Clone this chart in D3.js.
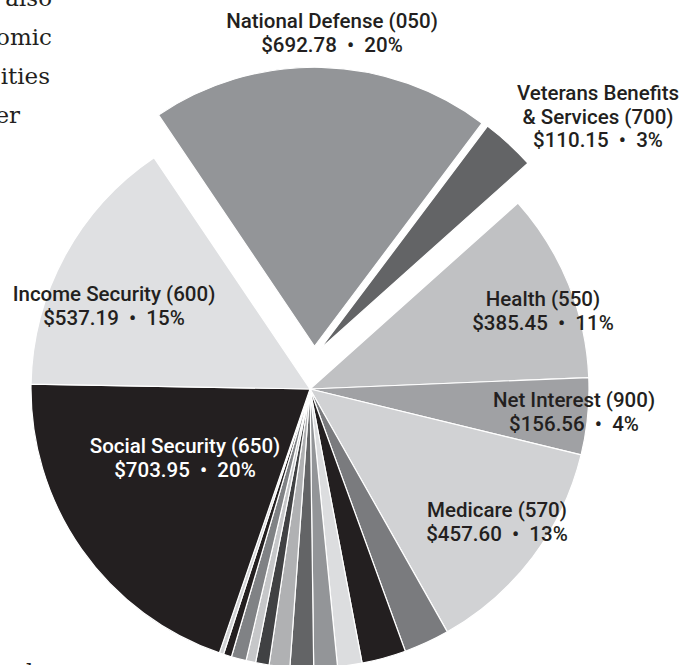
<!DOCTYPE html>
<html>
<head>
<meta charset="utf-8">
<script src="https://cdn.jsdelivr.net/npm/d3@7"></script>
<style>
  html, body { margin: 0; padding: 0; background: #fff; }
  svg { display: block; }
</style>
</head>
<body>
<svg id="chart"></svg>
<script>
// budget functions, clockwise from the top (billions of dollars)
const categories = [
  "National Defense (050)", "Veterans Benefits & Services (700)", "Health (550)",
  "Net Interest (900)", "Medicare (570)",
  "Other 1", "Other 2", "Other 3", "Other 4", "Other 5", "Other 6",
  "Other 7", "Other 8", "Other 9", "Other 10", "Other 11",
  "Social Security (650)", "Income Security (600)"
];
const values = [
  692.78, 110.15, 385.45, 156.56, 457.60,
  92.9, 90.0, 49.9, 47.9, 47.9, 42.0, 27.4, 19.6, 30.3, 16.6, 8.8,
  703.95, 537.19
];
const shades = [
  "#939598", "#636466", "#c0c1c3", "#a0a1a4", "#d1d2d4",
  "#7a7b7e", "#231f20", "#dcdddf", "#939598", "#636466", "#b0b1b3",
  "#404143", "#c6c7c9", "#808285", "#231f20", "#d1d2d4",
  "#231f20", "#dfe0e2"
];
const dot = "\u00a0\u00a0\u2022\u00a0\u00a0";
// label text lines for the labelled slices
const labelLines = {
  "National Defense (050)": ["National Defense (050)", "$692.78" + dot + "20%"],
  "Veterans Benefits & Services (700)": ["Veterans Benefits", "& Services (700)", "$110.15" + dot + "3%"],
  "Health (550)": ["Health (550)", "$385.45" + dot + "11%"],
  "Net Interest (900)": ["Net Interest (900)", "$156.56" + dot + "4%"],
  "Medicare (570)": ["Medicare (570)", "$457.60" + dot + "13%"],
  "Social Security (650)": ["Social Security (650)", "$703.95" + dot + "20%"],
  "Income Security (600)": ["Income Security (600)", "$537.19" + dot + "15%"]
};

// layout
const width = 696, height = 665;
const cx = 310, cy = 389, radius = 279;
const startDeg = -34;
// exploded slices: distance and direction (deg, clockwise from top)
const explode = {
  "National Defense (050)": {d: 43, a: 6},
  "Veterans Benefits & Services (700)": {d: 41, a: 14}
};
// first baseline of each label
const labelPos = {
  "National Defense (050)": [332, 28],
  "Veterans Benefits & Services (700)": [598, 100],
  "Health (550)": [543, 306],
  "Net Interest (900)": [574, 407],
  "Medicare (570)": [497, 517],
  "Social Security (650)": [185, 453],
  "Income Security (600)": [114, 301]
};
const lineGap = 23.5;

const svg = d3.select('#chart')
    .attr('width', width)
    .attr('height', height);

// cropped body text from the page on the left
const bodyText = [
  {t: "also", x: 52, y: 6},
  {t: "omic", x: 52, y: 45},
  {t: "ities", x: 50, y: 84},
  {t: "er", x: 20, y: 123}
];
svg.append('g')
    .selectAll('text')
    .data(bodyText)
    .enter()
    .append('text')
    .attr('x', d => d.x)
    .attr('y', d => d.y)
    .attr('text-anchor', 'end')
    .attr('font-family', 'DejaVu Serif, Georgia, serif')
    .attr('font-size', 23)
    .attr('fill', '#231f20')
    .text(d => d.t);
// top of the next line, just peeking in at the bottom
svg.append('text')
    .attr('x', 26)
    .attr('y', 680)
    .attr('font-family', 'DejaVu Serif, Georgia, serif')
    .attr('font-size', 23)
    .attr('fill', '#231f20')
    .text('l');

const data = categories.map((c, i) => ({name: c, value: values[i], color: shades[i]}));

const rad = Math.PI / 180;
const pie = d3.pie()
    .sort(null)
    .value(d => d.value)
    .startAngle(startDeg * rad)
    .endAngle(startDeg * rad + 2 * Math.PI);

const arc = d3.arc()
    .innerRadius(0)
    .outerRadius(radius);

const g = svg.append('g')
    .attr('transform', 'translate(' + cx + ',' + cy + ')');

g.selectAll('path')
    .data(pie(data))
    .enter()
    .append('path')
    .attr('d', arc)
    .attr('fill', d => d.data.color)
    .attr('stroke', '#fff')
    .attr('stroke-width', 1.2)
    .attr('stroke-linejoin', 'round')
    .attr('transform', function(d) {
      const e = explode[d.data.name];
      if (!e) return null;
      return 'translate(' + (e.d * Math.sin(e.a * rad)) + ',' + (-e.d * Math.cos(e.a * rad)) + ')';
    });

// labels
const labelled = Object.keys(labelLines);
const labels = svg.append('g')
    .selectAll('text')
    .data(labelled)
    .enter()
    .append('text')
    .attr('text-anchor', 'middle')
    .attr('font-family', 'Roboto, Liberation Sans, sans-serif')
    .attr('font-weight', 500)
    .attr('font-size', 20.5)
    .attr('fill', d => d === "Social Security (650)" ? '#fff' : '#231f20');

labels.selectAll('tspan')
    .data(d => labelLines[d].map((t, i) => ({t: t, i: i, key: d})))
    .enter()
    .append('tspan')
    .attr('x', d => labelPos[d.key][0])
    .attr('y', d => labelPos[d.key][1] + d.i * lineGap)
    .text(d => d.t);
</script>
</body>
</html>
